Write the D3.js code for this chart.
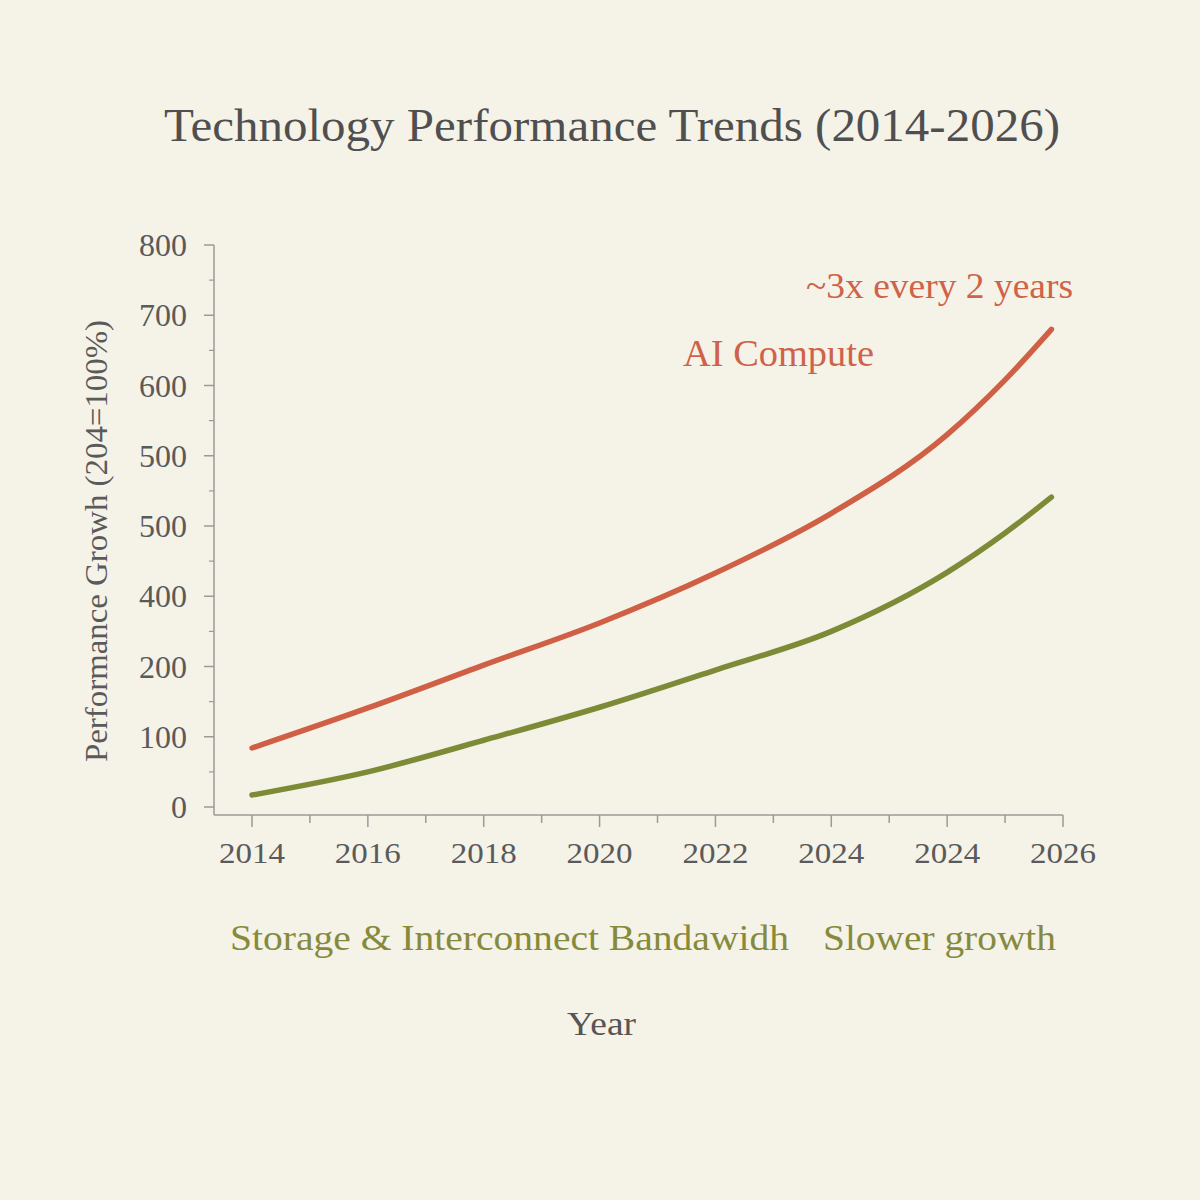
<!DOCTYPE html>
<html>
<head>
<meta charset="utf-8">
<script src="https://cdn.jsdelivr.net/npm/d3@7"></script>
<style>
  html, body { margin: 0; padding: 0; background: #f5f2e8; }
  svg { display: block; }
</style>
</head>
<body>
<svg id="chart" width="1200" height="1200"></svg>
<script>
// ---- data ----
const xPositions = [0, 1, 2, 3, 4, 5, 6, 6.5, 6.9];          // position in 2-year label steps
const aiCompute   = [84, 141, 202, 262, 333, 418, 530, 608, 680];
const storageBw   = [17, 50, 95, 142, 195, 250, 334, 390, 441];
const xTickLabels = ["2014", "2016", "2018", "2020", "2022", "2024", "2024", "2026"];
const yTickValues = [0, 100, 200, 300, 400, 500, 600, 700, 800];
const yTickLabels = ["0", "100", "200", "400", "500", "500", "600", "700", "800"];

const serif = "'Liberation Serif', 'DejaVu Serif', serif";
const svg = d3.select("#chart");

const x = d3.scaleLinear().domain([0, 7]).range([252, 1063]);
const y = d3.scaleLinear().domain([0, 800]).range([807, 245]);

// background
svg.append("rect").attr("width", 1200).attr("height", 1200).attr("fill", "#f5f2e8");

// title
svg.append("text").attr("x", 164).attr("y", 141)
  .attr("font-family", serif).attr("font-size", 47).attr("fill", "#4f4f4f")
  .attr("textLength", 896).attr("lengthAdjust", "spacingAndGlyphs")
  .text("Technology Performance Trends (2014-2026)");

const axisColor = "#9a9a9a";

// y axis
const yAxisG = svg.append("g").attr("transform", "translate(214,0)");
yAxisG.append("line").attr("x1", 0).attr("x2", 0).attr("y1", y(800)).attr("y2", 815)
  .attr("stroke", axisColor).attr("stroke-width", 1.5);
const yMinor = d3.range(50, 800, 100);
yAxisG.selectAll(".ymaj").data(yTickValues).join("line")
  .attr("x1", -10).attr("x2", 0).attr("y1", d => y(d)).attr("y2", d => y(d))
  .attr("stroke", axisColor).attr("stroke-width", 1.5);
yAxisG.selectAll(".ymin").data(yMinor).join("line")
  .attr("x1", -5).attr("x2", 0).attr("y1", d => y(d)).attr("y2", d => y(d))
  .attr("stroke", axisColor).attr("stroke-width", 1.2);
yAxisG.selectAll(".ylab").data(yTickValues).join("text")
  .attr("x", -27).attr("y", d => y(d)).attr("dy", "0.35em").attr("text-anchor", "end")
  .attr("font-family", serif).attr("font-size", 32).attr("fill", "#5a5a5a")
  .text((d, i) => yTickLabels[i]);

// x axis
const xAxisG = svg.append("g").attr("transform", "translate(0,815)");
xAxisG.append("line").attr("x1", 214).attr("x2", x(7)).attr("y1", 0).attr("y2", 0)
  .attr("stroke", axisColor).attr("stroke-width", 1.5);
xAxisG.selectAll(".xt").data(d3.range(0, 7.01, 0.5)).join("line")
  .attr("x1", d => x(d)).attr("x2", d => x(d)).attr("y1", 0).attr("y2", d => Number.isInteger(d) ? 12 : 8)
  .attr("stroke", axisColor).attr("stroke-width", 1.5);
xAxisG.selectAll(".xl").data(xTickLabels).join("text")
  .attr("x", (d, i) => x(i)).attr("y", 48).attr("text-anchor", "middle")
  .attr("font-family", serif).attr("font-size", 30).attr("fill", "#5a5a5a")
  .attr("textLength", 66).attr("lengthAdjust", "spacingAndGlyphs")
  .text(d => d);

// y axis title
svg.append("text").attr("transform", "translate(107,541) rotate(-90)")
  .attr("text-anchor", "middle").attr("font-family", serif).attr("font-size", 31)
  .attr("fill", "#5a5a5a").attr("textLength", 442).attr("lengthAdjust", "spacingAndGlyphs")
  .text("Performance Growh (204=100%)");

// lines
const line = d3.line().x(d => x(d[0])).y(d => y(d[1])).curve(d3.curveMonotoneX);
svg.append("path").datum(xPositions.map((v, i) => [v, aiCompute[i]]))
  .attr("d", line).attr("fill", "none").attr("stroke", "#cf6045").attr("stroke-width", 5.5)
  .attr("stroke-linecap", "round").attr("stroke-linejoin", "round");
svg.append("path").datum(xPositions.map((v, i) => [v, storageBw[i]]))
  .attr("d", line).attr("fill", "none").attr("stroke", "#7d8a36").attr("stroke-width", 5.5)
  .attr("stroke-linecap", "round").attr("stroke-linejoin", "round");

// annotations
svg.append("text").attr("x", 806).attr("y", 298)
  .attr("font-family", serif).attr("font-size", 35).attr("fill", "#cf6248")
  .attr("textLength", 267).attr("lengthAdjust", "spacingAndGlyphs")
  .text("~3x every 2 years");
svg.append("text").attr("x", 683).attr("y", 366)
  .attr("font-family", serif).attr("font-size", 37).attr("fill", "#cf6248")
  .attr("textLength", 191).attr("lengthAdjust", "spacingAndGlyphs")
  .text("AI Compute");
svg.append("text").attr("x", 230).attr("y", 950)
  .attr("font-family", serif).attr("font-size", 35).attr("fill", "#858a3c")
  .attr("textLength", 559).attr("lengthAdjust", "spacingAndGlyphs")
  .text("Storage & Interconnect Bandawidh");
svg.append("text").attr("x", 823).attr("y", 950)
  .attr("font-family", serif).attr("font-size", 35).attr("fill", "#858a3c")
  .attr("textLength", 233).attr("lengthAdjust", "spacingAndGlyphs")
  .text("Slower growth");

// x axis title
svg.append("text").attr("x", 567).attr("y", 1035)
  .attr("font-family", serif).attr("font-size", 34).attr("fill", "#555555")
  .attr("textLength", 69).attr("lengthAdjust", "spacingAndGlyphs")
  .text("Year");
</script>
</body>
</html>
